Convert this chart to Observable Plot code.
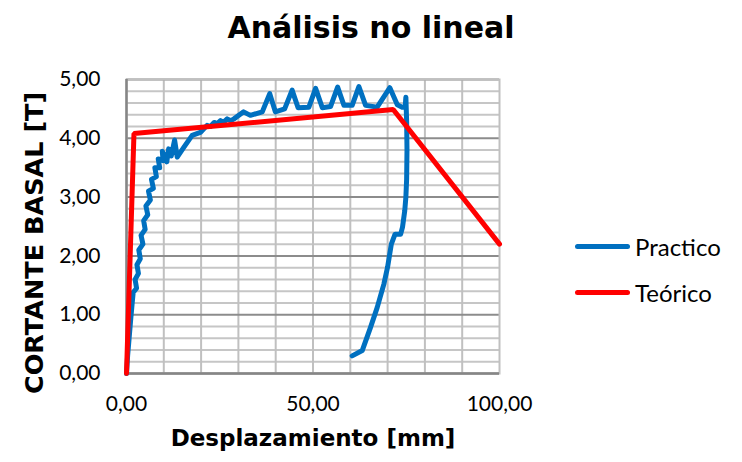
<!DOCTYPE html>
<html><head><meta charset="utf-8">
<script src="https://cdn.jsdelivr.net/npm/d3@7"></script>
<script src="https://cdn.jsdelivr.net/npm/@observablehq/plot@0.6"></script>
<style>
html,body{margin:0;padding:0;background:#fff;}
#wrap{position:relative;width:742px;height:462px;overflow:hidden;background:#fff;}
#title{height:55px;width:742px;text-align:center;font:bold 30px "DejaVu Sans";line-height:55px;color:#000;}
.axt{position:absolute;font-family:"DejaVu Sans";font-weight:bold;color:#000;white-space:nowrap;}
#xt{left:0;width:626px;text-align:center;top:425px;font-size:23px;}
#yt{left:34px;top:243px;font-size:25.5px;transform:translate(-50%,-50%) rotate(-90deg);}
.lg{position:absolute;left:575px;display:flex;align-items:center;font-family:Lato;font-size:24px;color:#000;}
.lg span.sw{display:inline-block;width:55px;height:5px;border-radius:3px;margin-right:5px;}
</style>
</head><body>
<div id="wrap">
<div id="title">Análisis no lineal</div>
<div id="plot"></div>
<div class="axt" id="xt">Desplazamiento [mm]</div>
<div class="axt" id="yt">CORTANTE BASAL [T]</div>
<div id="legend"></div>
</div>
<script>
// Series names and colours
const seriesNames = ["Practico", "Teórico"];
const seriesColors = ["#0070C0", "#FF0000"];

// Practico (measured) curve: displacement [mm], shear [T]
const practicoX = [0,0.3,0.7,1.1,1.5,1.8,2.7,2.3,3.2,2.8,3.7,3.3,4.4,3.9,5.0,4.6,5.7,5.2,6.4,5.9,7.2,6.7,8.0,7.6,8.9,8.5,9.8,9.6,10.8,11.3,12.0,12.9,13.6,15.4,17.6,19.8,21.6,22.5,23.5,24.3,25.2,26.0,27.0,28.0,28.8,31.4,33.2,36.4,38.4,39.9,42.4,44.4,46.0,48.9,50.7,52.5,54.7,56.6,58.3,60.5,62.3,64.1,67.2,70.6,72.6,73.9,74.7,74.9,75.1,75.2,75.1,74.9,74.6,74.0,73.5,72.0,71.0,70.0,69.0,67.2,65.4,63.2,60.5];
const practicoY = [0,0.3,0.6,0.9,1.18,1.38,1.45,1.6,1.7,1.85,1.95,2.1,2.2,2.35,2.45,2.6,2.7,2.85,2.95,3.1,3.15,3.3,3.35,3.5,3.5,3.65,3.62,3.78,3.6,3.82,3.7,3.97,3.68,3.85,4.05,4.1,4.22,4.2,4.27,4.25,4.3,4.27,4.33,4.3,4.33,4.45,4.39,4.45,4.76,4.45,4.5,4.82,4.52,4.53,4.85,4.52,4.54,4.87,4.56,4.56,4.88,4.56,4.53,4.86,4.57,4.53,4.53,4.7,4.3,3.8,3.3,3.0,2.77,2.49,2.37,2.37,2.2,1.81,1.52,1.12,0.78,0.39,0.3];

// Teórico (bilinear model)
const teoricoX = [0, 2.0, 71.5, 100];
const teoricoY = [0, 4.08, 4.49, 2.2];

// Axis ticks
const xTicks = [0, 50, 100];
const yTicks = [0, 1, 2, 3, 4, 5];
const xMinor = [10, 20, 30, 40, 50, 60, 70, 80, 90];
const yMinor = [0.2,0.4,0.6,0.8,1.2,1.4,1.6,1.8,2.2,2.4,2.6,2.8,3.2,3.4,3.6,3.8,4.2,4.4,4.6,4.8];

const practico = practicoX.map((x, i) => ({x, y: practicoY[i]}));
const teorico = teoricoX.map((x, i) => ({x, y: teoricoY[i]}));
const fmt = d => d3.format(".2f")(d).replace(".", ",");

const chart = Plot.plot({
  width: 742, height: 407,
  marginLeft: 126, marginRight: 243, marginTop: 24, marginBottom: 89,
  x: {domain: [0, 100]},
  y: {domain: [0, 5]},
  style: {fontFamily: "Lato", fontSize: "21px", color: "#000", background: "#fff", overflow: "visible"},
  marks: [
    Plot.gridY(yMinor, {stroke: "#c6c6c6", strokeOpacity: 1, strokeWidth: 2}),
    Plot.gridX(xMinor, {stroke: "#c0c0c0", strokeOpacity: 1, strokeWidth: 2}),
    Plot.gridY(yTicks, {stroke: "#8c8c8c", strokeOpacity: 1, strokeWidth: 2}),
    Plot.frame({stroke: "#c0c0c0", strokeWidth: 2}),
    Plot.ruleY([0], {stroke: "#868686", strokeWidth: 2.5}),
    Plot.ruleX([0], {stroke: "#868686", strokeWidth: 2.5}),
    Plot.line(practico, {x: "x", y: "y", stroke: seriesColors[0], strokeWidth: 5, strokeLinejoin: "round", strokeLinecap: "round"}),
    Plot.line(teorico, {x: "x", y: "y", stroke: seriesColors[1], strokeWidth: 5, strokeLinejoin: "miter"}),
    Plot.axisX(xTicks, {tickFormat: fmt, tickSize: 0, tickPadding: 23, label: null}),
    Plot.axisY(yTicks, {tickFormat: fmt, tickSize: 0, tickPadding: 26, label: null})
  ]
});
document.getElementById("plot").appendChild(chart);

const legend = document.getElementById("legend");
const legendTops = [232, 278];
seriesNames.forEach((name, i) => {
  const row = document.createElement("div");
  row.className = "lg";
  row.style.top = legendTops[i] + "px";
  const sw = document.createElement("span");
  sw.className = "sw";
  sw.style.background = seriesColors[i];
  row.appendChild(sw);
  row.appendChild(document.createTextNode(name));
  legend.appendChild(row);
});
</script>
</body></html>
